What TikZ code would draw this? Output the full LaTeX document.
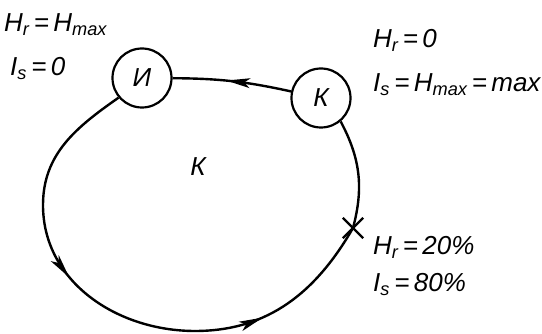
\documentclass[tikz,border=0pt]{standalone}
\usepackage{fontspec}
\setmainfont{Liberation Sans}
\usetikzlibrary{decorations.markings,shapes.misc}
\tikzset{
  lbl/.style={font=\fontsize{26}{28}\selectfont\itshape, anchor=base west, inner sep=0pt},
  stn/.style={circle, draw, line width=2.2pt, minimum size=59pt, inner sep=0pt,
    font=\fontsize{26}{28}\selectfont\itshape},
  flow/.style={line width=2.4pt},
  arrowat/.style={postaction={decorate}, decoration={markings,
    mark=at position #1 with {\fill (6pt,0pt) -- (-18pt,5pt) -- (-12pt,0pt) -- (-18pt,-5pt) -- cycle;}}}
}
\begin{document}
\begin{tikzpicture}[x=1pt,y=1pt]
    \useasboundingbox (0,0) rectangle (542,334);
    % stations
    \node[stn] (ni) at (142,256) {И};
    \node[stn] (nk) at (321,236) {К};
    \node[inner sep=0pt, font=\fontsize{26}{28}\selectfont\itshape] (kz) at (198,167) {К};
    \node[cross out, draw, line width=2.4pt, minimum size=18pt, inner sep=0pt] (x) at (353,106) {};
    % loop
    \coordinate (lft) at (43,129);
    \coordinate (bot) at (195,3);
    \draw[flow, arrowat=0.5] (nk) to[bend right=6] (ni);
    \draw[flow] (ni.220) to[out=215,in=90] (lft);
    \draw[flow, arrowat=0.33] (lft) to[out=-90,in=180] (bot);
    \draw[flow, arrowat=0.32] (bot) to[out=0,in=240] (x.center);
    \draw[flow] (x.center) to[out=75,in=-62] (nk.-50);
    % labels
    \node[lbl] (l1) at (4,302) {H\textsubscript{r}\,=\,H\textsubscript{max}};
    \node[lbl] (l2) at (10,258) {I\textsubscript{s}\,=\,0};
    \node[lbl] (l3) at (373,286) {H\textsubscript{r}\,=\,0};
    \node[lbl] (l4) at (373,242) {I\textsubscript{s}\,=\,H\textsubscript{max}\,=\,max};
    \node[lbl] (l5) at (373,79) {H\textsubscript{r}\,=\,20\%};
    \node[lbl] (l6) at (373,42) {I\textsubscript{s}\,=\,80\%};
\end{tikzpicture}
\end{document}
